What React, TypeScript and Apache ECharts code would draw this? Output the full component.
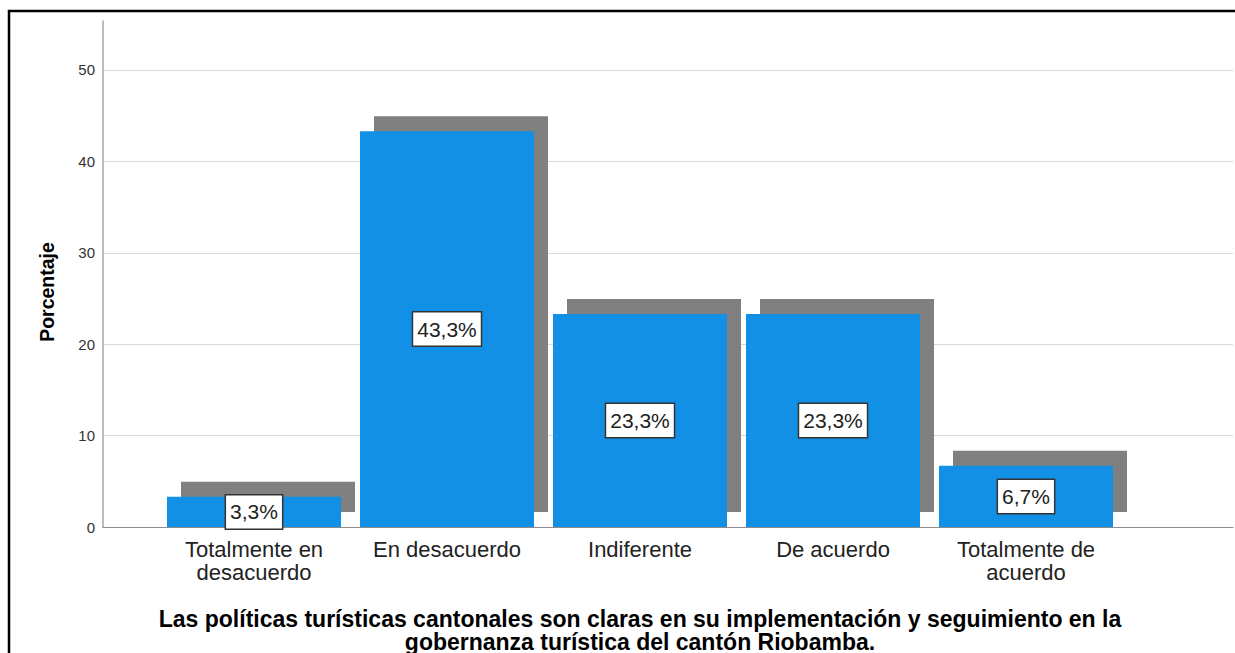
import React, { useEffect, useRef } from 'react';
import * as echarts from 'echarts';

const categories = [
  'Totalmente en\ndesacuerdo',
  'En desacuerdo',
  'Indiferente',
  'De acuerdo',
  'Totalmente de\nacuerdo',
];
const percentages = [3.3, 43.3, 23.3, 23.3, 6.7];
const yAxisTitle = 'Porcentaje';
const xAxisTitleLines = [
  'Las políticas turísticas cantonales son claras en su implementación y seguimiento en la',
  'gobernanza turística del cantón Riobamba.',
];
const Y_MIN = 0;
const Y_MAX = 55.36;
const Y_INTERVAL = 10;

const FONT = '"Liberation Sans", Arial, sans-serif';

export default function App() {
  const ref = useRef<HTMLDivElement>(null);

  useEffect(() => {
    if (!ref.current) return;
    const chart = echarts.init(ref.current, null, { renderer: 'svg' });
    const fmt = (v: number) => `${v.toFixed(1).replace('.', ',')}%`;

    const hiddenY = (gridIndex: number) => ({
      type: 'value' as const,
      gridIndex,
      min: Y_MIN,
      max: Y_MAX,
      interval: Y_INTERVAL,
      show: false,
      splitLine: { show: false },
    });

    chart.setOption({
      animation: false,
      backgroundColor: '#ffffff',
      textStyle: { fontFamily: FONT },
      grid: [
        { left: 103, right: 2, top: 21, bottom: 126 },
        { left: 157.5, right: 112.5, top: 21, bottom: 126 },
        { left: 171.5, right: 98.5, top: 6, bottom: 141 },
      ],
      xAxis: [
        {
          type: 'value',
          gridIndex: 0,
          min: 0,
          max: 1,
          axisLine: { show: true, onZero: false, lineStyle: { color: '#8c8c8c', width: 1.2 } },
          axisTick: { show: false },
          axisLabel: { show: false },
          splitLine: { show: false },
        },
        {
          type: 'category',
          gridIndex: 1,
          data: categories,
          axisLine: { show: false },
          axisTick: { show: false },
          axisLabel: {
            interval: 0,
            margin: 11,
            fontSize: 22,
            lineHeight: 23,
            color: '#222222',
            fontFamily: FONT,
            align: 'center',
          },
        },
        {
          type: 'category',
          gridIndex: 2,
          data: categories,
          show: false,
        },
      ],
      yAxis: [
        {
          type: 'value',
          gridIndex: 0,
          min: Y_MIN,
          max: Y_MAX,
          interval: Y_INTERVAL,
          axisLine: { show: true, lineStyle: { color: '#a6a6a6', width: 1.5 } },
          axisTick: { show: false },
          axisLabel: {
            showMaxLabel: false,
            margin: 8,
            fontSize: 15,
            color: '#333333',
            fontFamily: FONT,
          },
          splitLine: {
            show: true,
            showMaxLine: false,
            showMinLine: false,
            lineStyle: { color: '#d9d9d9', width: 1.2 },
          },
        },
        hiddenY(1),
        hiddenY(2),
      ],
      series: [
        {
          type: 'bar',
          xAxisIndex: 2,
          yAxisIndex: 2,
          data: percentages,
          barWidth: 174,
          itemStyle: { color: '#808080' },
          silent: true,
          z: 1,
        },
        {
          type: 'bar',
          xAxisIndex: 1,
          yAxisIndex: 1,
          data: percentages,
          barWidth: 174,
          itemStyle: { color: '#1290e6' },
          z: 2,
          label: {
            show: true,
            position: 'inside',
            formatter: (p: any) => fmt(p.value as number),
            fontSize: 21,
            lineHeight: 22,
            color: '#222222',
            fontFamily: FONT,
            backgroundColor: '#ffffff',
            borderColor: '#333333',
            borderWidth: 1.5,
            padding: [6, 4, 5, 4],
          },
        },
      ],
      graphic: [
        {
          type: 'polyline',
          shape: { points: [[9, 700], [9, 11], [1300, 11]] },
          style: { fill: 'none', stroke: '#000000', lineWidth: 2.5 },
          silent: true,
        },
        {
          type: 'text',
          x: 47,
          y: 292,
          rotation: Math.PI / 2,
          style: {
            text: yAxisTitle,
            fontSize: 19.5,
            fontWeight: 'bold',
            fontFamily: FONT,
            fill: '#000000',
            align: 'center',
            verticalAlign: 'middle',
          },
        },
        {
          type: 'text',
          x: 640,
          y: 618.5,
          style: {
            text: xAxisTitleLines[0],
            fontSize: 23,
            fontWeight: 'bold',
            fontFamily: FONT,
            fill: '#000000',
            align: 'center',
            verticalAlign: 'middle',
          },
        },
        {
          type: 'text',
          x: 640,
          y: 641.5,
          style: {
            text: xAxisTitleLines[1],
            fontSize: 23,
            fontWeight: 'bold',
            fontFamily: FONT,
            fill: '#000000',
            align: 'center',
            verticalAlign: 'middle',
          },
        },
      ],
    });

    return () => chart.dispose();
  }, []);

  return (
    <div
      ref={ref}
      style={{ position: 'absolute', left: 0, top: 0, width: 1235, height: 653 }}
    />
  );
}
